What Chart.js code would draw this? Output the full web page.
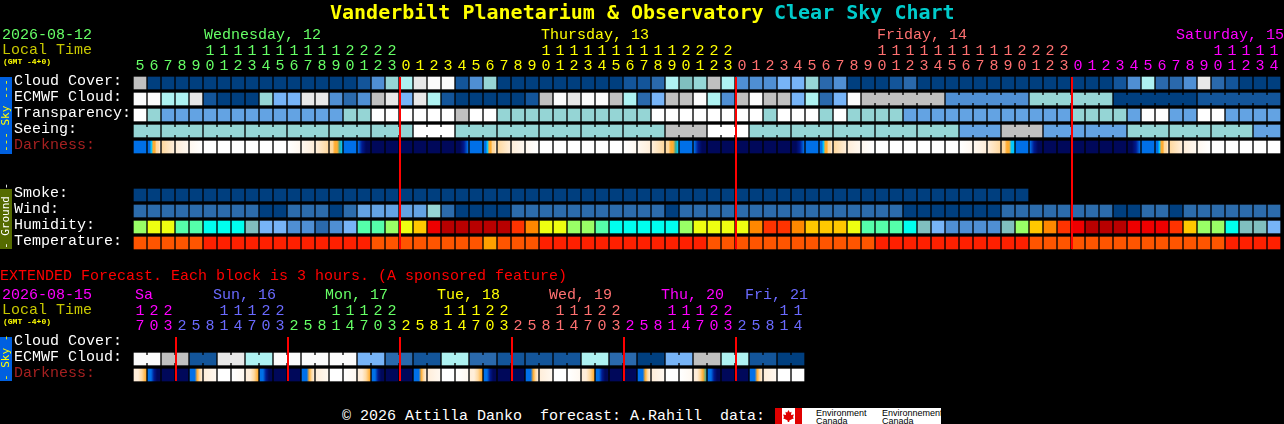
<!DOCTYPE html>
<html>
<head>
<meta charset="utf-8">
<title>Clear Sky Chart</title>
<script src="https://cdn.jsdelivr.net/npm/chart.js@4"></script>
<style>
html, body { margin: 0; padding: 0; background: #000; width: 1284px; height: 424px; overflow: hidden; }
canvas { position: absolute; left: 0; }
.txt { position: absolute; white-space: pre; font-family: "Liberation Mono", monospace; font-size: 15px; line-height: 16px; }
.band { position: absolute; left: 0; width: 12px; text-align: center; white-space: pre; font-family: "DejaVu Sans Mono", monospace; font-size: 11px; line-height: 12px; writing-mode: vertical-rl; transform: rotate(180deg); }
</style>
</head>
<body>
<canvas id="mainChart" width="1284" height="251" style="top:0"></canvas>
<canvas id="extChart" width="1284" height="121" style="top:262px"></canvas>
<script>
// hours shown on top of every column
var hours = [5,6,7,8,9,10,11,12,13,14,15,16,17,18,19,20,21,22,23,
    0,1,2,3,4,5,6,7,8,9,10,11,12,13,14,15,16,17,18,19,20,21,22,23,
    0,1,2,3,4,5,6,7,8,9,10,11,12,13,14,15,16,17,18,19,20,21,22,23,
    0,1,2,3,4,5,6,7,8,9,10,11,12,13,14];
var extHours = [17,20,23,2,5,8,11,14,17,20,23,2,5,8,11,14,17,20,23,2,5,8,11,14,
    17,20,23,2,5,8,11,14,17,20,23,2,5,8,11,14,17,20,23,2,5,8,11,14];

var rowNames = ['Cloud Cover:','ECMWF Cloud:','Transparency:','Seeing:','Darkness:','','','Smoke:','Wind:','Humidity:','Temperature:'];
var extRowNames = ['Cloud Cover:','ECMWF Cloud:','Darkness:'];

// cloud levels, index into cloudColors
var cloudCover = [7,0,0,0,0,0,0,0,0,0,0,0,0,0,0,0,1,3,5,6,8,9,9,1,3,5,0,0,0,0,0,0,0,0,0,1,1,2,6,10,5,7,6,3,3,3,4,4,5,2,3,0,
    0,0,1,2,0,0,0,0,0,0,0,0,0,0,0,0,0,0,1,3,6,2,2,3,8,2,1,0,0,0];
var ecmwfCloud = [9,9,6,6,8,1,0,0,0,5,4,4,8,8,3,2,3,7,8,4,8,6,1,0,0,0,0,0,1,7,9,8,9,9,7,6,2,4,7,7,9,6,3,7,9,7,7,4,6,2,4,9,
    7,7,7,7,7,7,3,3,3,3,3,3,5,5,5,5,5,5,0,0,0,0,0,0,1,1,1,1,1,1];
var extEcmwfCloud = [9,9,7,7,1,1,8,8,6,6,9,9,9,9,9,9,4,4,2,2,1,1,6,6,2,2,1,1,1,1,1,1,6,6,2,2,0,0,4,4,7,7,6,6,1,1,0,0];

// sky levels, index into skyColors
var transparency = [5,3,2,2,2,2,2,2,2,2,2,2,2,2,2,3,3,5,5,5,5,5,5,4,5,5,3,3,3,3,3,3,3,3,3,3,3,5,5,5,5,5,5,5,5,3,5,5,5,3,5,3,
    3,3,3,2,2,2,2,2,2,2,2,2,2,2,2,3,3,3,3,2,5,5,2,2,5,5,2,2,2,2];
var seeing = [3,3,3,3,3,3,3,3,3,3,3,3,3,3,3,3,3,3,3,3,5,5,5,3,3,3,3,3,3,3,3,3,3,3,3,3,3,3,4,4,4,5,5,5,3,3,3,3,3,3,3,3,
    3,3,3,3,3,3,3,2,2,2,4,4,4,2,2,2,2,2,2,3,3,3,3,3,3,3,3,3,2,2];
var smoke = [0,0,0,0,0,0,0,0,0,0,0,0,0,0,0,0,0,0,0,0,0,0,0,0,0,0,0,0,0,0,0,0,0,0,0,0,0,0,0,0,0,0,0,0,0,0,0,0,0,0,0,0,
    0,0,0,0,0,0,0,0,0,0,0,0];
var wind = [1,1,1,1,1,1,1,1,1,0,0,1,1,1,0,1,2,2,2,2,2,3,1,0,0,0,0,1,1,1,1,1,1,1,1,1,1,1,0,1,1,1,1,1,1,1,1,1,1,1,1,1,
    1,1,1,0,0,0,0,0,0,0,1,1,1,1,1,1,1,1,0,0,1,1,0,1,1,1,1,1,1,1];

// humidity levels, index into humidityColors
var humidity = [6,7,7,5,5,4,4,4,3,2,2,1,1,0,1,2,5,5,6,7,8,11,12,12,12,12,12,10,9,7,7,6,6,5,4,4,4,4,4,6,7,7,7,7,9,10,10,9,8,8,8,7,
    5,5,5,4,3,2,1,1,1,1,3,6,8,9,10,11,12,12,12,11,11,11,10,8,6,6,4,3,3,2];
// temperature levels, index into temperatureColors
var temperature = [0,0,0,0,0,1,1,1,1,1,1,1,1,1,1,1,1,0,0,0,0,0,0,0,0,2,0,0,0,1,1,1,1,1,1,1,1,1,1,1,1,0,0,0,0,0,0,0,0,0,0,0,
    0,1,1,1,1,1,1,1,1,1,1,1,0,0,0,0,0,0,0,0,0,0,0,0,0,0,1,1,1,1];

// darkness through each block, left to right, digits index darknessColors
var darkness = ['22','22355667','67','78','89','99','99','99','99','99','99','98','87','76','665543','22','2100',
    '00','00','00','00','00','00','0012','22','22355667','67','78','89','99','99','99','99','99','99','98','87','76','665543','22','2100',
    '00','00','00','00','00','00','0012','22','22355667','67','78','89','99','99','99','99','99','99','98','87','76','665533','22','2100',
    '00','00','00','00','00','00','0012','22','22355667','67','78','89','99','99','99','99','99'];
var extDarkness = ['7765','22100','00','00','222567','78','99','98','7765','22100','00','00','222567','78','99','98',
    '7765','22100','00','00','222567','78','99','98','7765','22100','00','00','222567','78','99','98',
    '7765','22100','00','00','222567','78','99','98','77654','22100','00','00','222567','78','99','99'];

// forecast blocks that are drawn joined together
var seeingBlocks = [2,3,3,3,3,3,3,3,3,3,3,3,3,3,3,3,3,3,3,3,3,3,3,3,3,3,3,2];
var ecmwfBlockFirst = 52;
var ecmwfBlocks = [6,6,6,6,6];
var extEcmwfBlocks = [2,2,2,2,2,2,2,2,2,2,2,2,2,2,2,2,2,2,2,2,2,2,2,2];

// column that starts each new day
var midnights = [19,43,67];
var extMidnights = [3,11,19,27,35,43];

var cloudColors = ['#003f7f','#13559a','#2a69ac','#4f8fd4','#77b4f7','#96d6d6','#aef2f2','#c0c0c0','#e8e8e8','#fbfbfb','#80bfbf'];
var skyColors = ['#003f7f','#2c6cac','#63a3e3','#95d5d5','#c0c0c0','#ffffff'];
var humidityColors = ['#2a69ac','#4f8fd4','#77b4f7','#80bfbf','#00ffee','#55ffaa','#99ff66','#eeff11','#ffc800','#ff8800','#ff3300','#ee0000','#b80000'];
var temperatureColors = ['#ff5500','#ff2000','#ffa000'];
var darknessColors = ['#00085a','#001a90','#0070e8','#00c8ff','#40a890','#ffac30','#ffd9a0','#ffeeda','#fff8f0','#ffffff'];

var GREEN = '#66ff66', YELLOW = '#ffff00', SALMON = '#ff7070', MAGENTA = '#ff00ff', PERI = '#6a6aff';
var FONT = '"Liberation Mono", monospace';

function cells(values, row) {
    return values.map(function() { return [row - 0.375, row + 0.375]; });
}

function levelRow(values, row, palette) {
    return {
        data: cells(values, row),
        backgroundColor: values.map(function(v) { return palette[v]; })
    };
}

function darknessRow(values, row) {
    return {
        data: cells(values, row),
        backgroundColor: function(context) {
            if (context.dataIndex === undefined) return '#000';
            var x = context.chart.scales.x.getPixelForValue(context.dataIndex);
            // scale has no size yet on the first pass
            if (!isFinite(x)) return '#000';
            var stops = values[context.dataIndex];
            var grad = context.chart.ctx.createLinearGradient(x - 6, 0, x + 6, 0);
            for (var i = 0; i < stops.length; i++) {
                grad.addColorStop(i / (stops.length - 1), darknessColors[+stops[i]]);
            }
            return grad;
        }
    };
}

// joins neighbour cells of one forecast block, and draws the red midnight lines
var chartMarks = {
    id: 'chartMarks',
    afterDatasetsDraw: function(chart, args, opts) {
        var ctx = chart.ctx;
        opts.joins.forEach(function(join) {
            var bars = chart.getDatasetMeta(join.dataset).data;
            var colors = chart.data.datasets[join.dataset].backgroundColor;
            var i = join.first;
            join.blocks.forEach(function(len) {
                for (var k = i; k < i + len - 1; k++) {
                    ctx.fillStyle = colors[k];
                    ctx.fillRect(bars[k].x + 6, (bars[k].y + bars[k].base) / 2 - 4, 2, 8);
                }
                i += len;
            });
        });
        var y = chart.scales.y;
        var top = y.getPixelForValue(-0.375), bottom = y.getPixelForValue(opts.lastRow + 0.375);
        ctx.fillStyle = '#ff0000';
        opts.midnights.forEach(function(col) {
            ctx.fillRect(chart.scales.x.getPixelForValue(col) - 7, top, 2, bottom - top);
        });
    }
};

// axes keep a fixed size, no extra room for labels that stick out
function fixSize(s, key, size) {
    s[key] = size;
    s.paddingLeft = s.paddingRight = s.paddingTop = s.paddingBottom = 0;
}

function makeChart(id, hourList, hourColor, names, nameColor, datasets, marks, rightPad, topSize) {
    return new Chart(document.getElementById(id), {
        type: 'bar',
        data: { labels: hourList, datasets: datasets },
        plugins: [chartMarks],
        options: {
            responsive: false,
            devicePixelRatio: 1,
            animation: false,
            events: [],
            layout: { padding: { left: 14, right: rightPad, top: 0, bottom: 0 } },
            datasets: { bar: { grouped: false, barThickness: 12 } },
            plugins: { legend: { display: false }, tooltip: { enabled: false }, chartMarks: marks },
            scales: {
                x: {
                    position: 'top',
                    grid: { display: false, drawTicks: false },
                    border: { display: false },
                    afterFit: function(s) { fixSize(s, 'height', topSize); },
                    ticks: {
                        autoSkip: false, maxRotation: 0, minRotation: 0, padding: 1,
                        font: { family: FONT, size: 15, lineHeight: 1 },
                        color: function(c) { return hourColor(c.index); },
                        callback: function(v, i) {
                            var h = hourList[i];
                            return h < 10 ? [' ', '' + h] : [('' + h)[0], ('' + h)[1]];
                        }
                    }
                },
                y: {
                    reverse: true,
                    min: -0.5,
                    max: names.length - 0.5,
                    grid: { display: false, drawTicks: false },
                    border: { display: false },
                    afterFit: function(s) { fixSize(s, 'width', 119); },
                    afterBuildTicks: function(s) {
                        s.ticks = names.map(function(n, i) { return { value: i - 0.1 }; });
                    },
                    ticks: {
                        autoSkip: false, crossAlign: 'far', padding: 0,
                        font: { family: FONT, size: 15 },
                        color: function(c) { return nameColor(c.index); },
                        callback: function(v, i) { return names[i]; }
                    }
                }
            }
        }
    });
}

makeChart('mainChart', hours,
    function(i) { return i < 19 ? GREEN : i < 43 ? YELLOW : i < 67 ? SALMON : MAGENTA; },
    rowNames,
    function(i) { return i === 4 ? '#a52020' : '#ffffff'; },
    [
        levelRow(cloudCover, 0, cloudColors),
        levelRow(ecmwfCloud, 1, cloudColors),
        levelRow(transparency, 2, skyColors),
        levelRow(seeing, 3, skyColors),
        darknessRow(darkness, 4),
        levelRow(smoke, 7, skyColors),
        levelRow(wind, 8, skyColors),
        levelRow(humidity, 9, humidityColors),
        levelRow(temperature, 10, temperatureColors)
    ],
    {
        lastRow: 10,
        midnights: midnights,
        joins: [
            { dataset: 3, first: 0, blocks: seeingBlocks },
            { dataset: 1, first: ecmwfBlockFirst, blocks: ecmwfBlocks }
        ]
    },
    3, 75);

makeChart('extChart', extHours,
    function(i) { return i < 3 ? MAGENTA : i < 11 ? PERI : i < 19 ? GREEN : i < 27 ? YELLOW : i < 35 ? SALMON : i < 43 ? MAGENTA : PERI; },
    extRowNames,
    function(i) { return i === 2 ? '#a52020' : '#ffffff'; },
    [
        levelRow(extEcmwfCloud, 1, cloudColors),
        darknessRow(extDarkness, 2)
    ],
    {
        lastRow: 2,
        midnights: extMidnights,
        joins: [{ dataset: 0, first: 0, blocks: extEcmwfBlocks }]
    },
    479, 73);

// plain text round the charts
function addText(text, x, y, color, extra) {
    var d = document.createElement('div');
    d.className = 'txt';
    d.textContent = text;
    d.style.left = x + 'px';
    d.style.top = (y - 7) + 'px';
    d.style.color = color;
    if (extra) d.style.cssText += extra;
    document.body.appendChild(d);
    return d;
}

function addBand(top, height, bg, color, text) {
    var d = document.createElement('div');
    d.className = 'band';
    d.textContent = text;
    d.style.top = top + 'px';
    d.style.height = height + 'px';
    d.style.background = bg;
    d.style.color = color;
    document.body.appendChild(d);
}

var BOLD = 'font-family:"DejaVu Sans Mono",monospace;font-weight:bold;font-size:20px;line-height:24px;margin-top:-5px;';
addText('Vanderbilt Planetarium & Observatory', 330, 12, YELLOW, BOLD);
addText('Clear Sky Chart', 774, 12, '#00cccc', BOLD);

addText('2026-08-12', 2, 35, GREEN);
addText('Local Time', 2, 50, '#c8c800');
addText('(GMT -4+0)', 3, 61, YELLOW, 'font-size:8px;line-height:8px;margin-top:4px;font-weight:bold;');
addText('Wednesday, 12', 204, 35, GREEN);
addText('Thursday, 13', 541, 35, YELLOW);
addText('Friday, 14', 877, 35, SALMON);
addText('Saturday, 15', 1176, 35, MAGENTA);

addText('EXTENDED Forecast. Each block is 3 hours. (A sponsored feature)', 0, 276, '#ff0000');
addText('2026-08-15', 2, 295, MAGENTA);
addText('Local Time', 2, 310, '#c8c800');
addText('(GMT -4+0)', 3, 321, YELLOW, 'font-size:8px;line-height:8px;margin-top:4px;font-weight:bold;');
addText('Sa', 135, 295, MAGENTA);
addText('Sun, 16', 213, 295, PERI);
addText('Mon, 17', 325, 295, GREEN);
addText('Tue, 18', 437, 295, YELLOW);
addText('Wed, 19', 549, 295, SALMON);
addText('Thu, 20', 661, 295, MAGENTA);
addText('Fri, 21', 745, 295, PERI);

addBand(77, 77, '#0060e0', YELLOW, '--- Sky ---');
addBand(189, 60, '#556b00', '#ffffff', '- Ground -');
addBand(337, 44, '#0060e0', YELLOW, '- Sky -');

addText('\u00a9 2026 Attilla Danko  forecast: A.Rahill  data:', 342, 416, '#ffffff');

// Environment Canada logo strip
var logo = document.createElement('div');
logo.style.cssText = 'position:absolute;left:775px;top:408px;width:166px;height:16px;background:#fff;overflow:hidden;';
logo.innerHTML = '<div style="position:absolute;left:0;top:0;width:7px;height:16px;background:#e00000"></div>' +
    '<div style="position:absolute;left:20px;top:0;width:7px;height:16px;background:#e00000"></div>' +
    '<div style="position:absolute;left:8px;top:2px;width:11px;height:12px;background:#e00000;clip-path:polygon(50% 0,62% 20%,78% 15%,72% 42%,100% 38%,90% 60%,100% 68%,60% 85%,56% 100%,44% 100%,40% 85%,0 68%,10% 60%,0 38%,28% 42%,22% 15%,38% 20%)"></div>' +
    '<div style="position:absolute;left:41px;top:1px;font:9px/8px \'Liberation Sans\',sans-serif;color:#000;white-space:pre">Environment\nCanada</div>' +
    '<div style="position:absolute;left:107px;top:1px;font:9px/8px \'Liberation Sans\',sans-serif;color:#000;white-space:pre">Environnement\nCanada</div>';
document.body.appendChild(logo);
</script>
</body>
</html>
